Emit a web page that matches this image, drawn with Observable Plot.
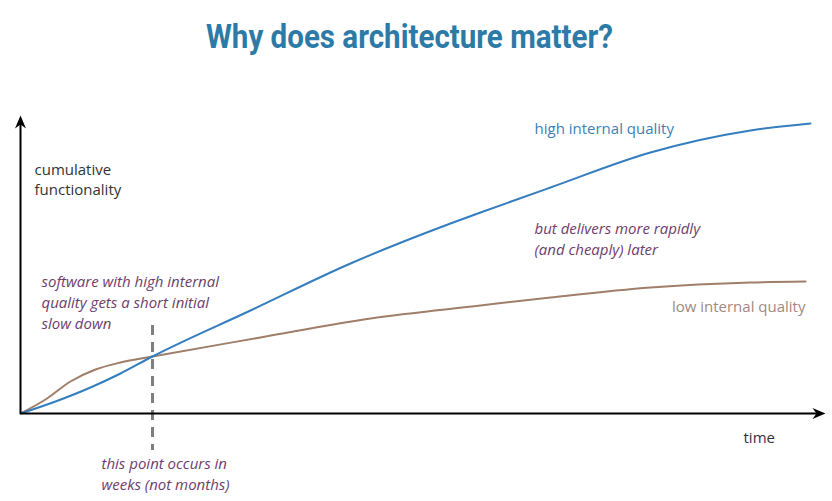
<!DOCTYPE html>
<html><head><meta charset="utf-8">
<script src="https://cdn.jsdelivr.net/npm/d3@7"></script>
<script src="https://cdn.jsdelivr.net/npm/@observablehq/plot@0.6"></script>
<style>
body{margin:0;background:#fff;font-family:"Open Sans",sans-serif;}
#title{height:80px;width:832px;position:relative;}
#title span{position:absolute;left:409px;top:16px;white-space:nowrap;font-family:Roboto,sans-serif;font-weight:700;font-size:34px;color:#2c7aa5;transform-origin:0 0;}
</style></head><body>
<div id="title"><span id="t">Why does architecture matter?</span></div>
<div id="chart"></div>
<script>
// time (x) and cumulative functionality (y)
const highTime = [0,35,70,100,132,230,330,430,460,530,630,730,790];
const highFunc = [0,12,26,40,57,103,150,190,201,226,261,283,290];
const lowTime  = [0,25,50,75,100,132,240,350,460,530,630,730,785];
const lowFunc  = [0,14,32,44,51,57,76,95,108,116,126,131,132];
const crossTime = 132;
const dashFunc = [88,-37];
const axisMax = {x:805, y:298};
const labels = [
  {x:14, y:253, text:"cumulative\nfunctionality", kind:"axis", anchor:"start"},
  {x:723, y:-15, text:"time", kind:"axis", anchor:"start"},
  {x:514, y:294, text:"high internal quality", kind:"high", anchor:"start"},
  {x:785, y:116, text:"low internal quality", kind:"low", anchor:"end"},
  {x:514, y:194, text:"but delivers more rapidly\n(and cheaply) later", kind:"note", anchor:"start"},
  {x:21, y:141, text:"software with high internal\nquality gets a short initial\nslow down", kind:"note", anchor:"start"},
  {x:81, y:-41, text:"this point occurs in\nweeks (not months)", kind:"note", anchor:"start"}
];

const high = highTime.map((t,i)=>({t, f:highFunc[i]}));
const low = lowTime.map((t,i)=>({t, f:lowFunc[i]}));
const colors = {axis:"#333", high:"#3d7fb8", low:"#a08a7e", note:"#6e3d6c"};

const t = document.getElementById("t");
const w = t.getBoundingClientRect().width;
const s = 407 / w;
t.style.transform = `scaleX(${s})`;
t.style.left = (409 - 407/2) + "px";

// stealth arrowhead symbol, tip at the point, pointing up before rotation
const stealth = {draw(ctx){ctx.moveTo(0,0);ctx.lineTo(-5.5,13);ctx.lineTo(0,9);ctx.lineTo(5.5,13);ctx.closePath();}};

const plot = Plot.plot({
  width: 832, height: 421,
  marginLeft: 20, marginRight: 7, marginTop: 35, marginBottom: 88,
  x: {domain:[0, axisMax.x], axis:null},
  y: {domain:[0, axisMax.y], axis:null},
  style: {fontFamily:"'Open Sans', sans-serif", fontSize:"15px", background:"#fff"},
  marks: [
    Plot.ruleX([crossTime], {y1: dashFunc[0], y2: dashFunc[1], stroke:"#7f7f7f", strokeWidth:3, strokeDasharray:"10,7"}),
    Plot.line(low, {x:"t", y:"f", stroke:"#9f7e6a", strokeWidth:2, curve:"monotone-x"}),
    Plot.line(high, {x:"t", y:"f", stroke:"#347dbf", strokeWidth:2, curve:"monotone-x"}),
    Plot.link([{x1:0,y1:0,x2:axisMax.x-4,y2:0},{x1:0,y1:0,x2:0,y2:axisMax.y-4}], {x1:"x1", y1:"y1", x2:"x2", y2:"y2", stroke:"#000", strokeWidth:2}),
    Plot.dot([{x:axisMax.x,y:0,r:90},{x:0,y:axisMax.y,r:0}], {x:"x", y:"y", rotate:"r", symbol:stealth, fill:"#000", stroke:"none", r:5}),
    ...labels.map(d => Plot.text([d], {
      x:"x", y:"y", text:"text", textAnchor:d.anchor, lineAnchor:"top",
      lineHeight: d.kind==="note" ? 1.4 : 1.33,
      fill: colors[d.kind], fontStyle: d.kind==="note" ? "italic" : "normal", fontSize:15
    }))
  ]
});
document.getElementById("chart").appendChild(plot);
</script>
</body></html>
